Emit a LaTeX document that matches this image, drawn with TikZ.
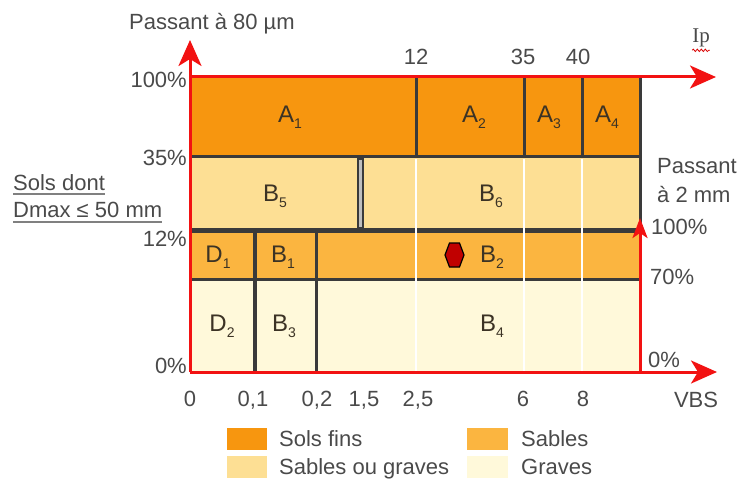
\documentclass[tikz,border=0pt]{standalone}
\usepackage{fontspec}
\setmainfont{Liberation Sans}
\newfontfamily\ipfont{Liberation Serif}
\usetikzlibrary{arrows.meta,decorations.pathmorphing}
\definecolor{fins}{HTML}{F7960F}
\definecolor{sables}{HTML}{FBB540}
\definecolor{sablesg}{HTML}{FDDF94}
\definecolor{graves}{HTML}{FFF9DA}
\definecolor{axisred}{HTML}{F21212}
\definecolor{border}{HTML}{3A3A3A}
\definecolor{txt}{HTML}{4A4A4A}
\definecolor{celltxt}{HTML}{3C3325}
\definecolor{hexred}{HTML}{C00000}
\newcommand\lowsub[1]{\raisebox{-6pt}{\fontsize{14}{14}\selectfont #1}}

\begin{document}
\begin{tikzpicture}[x=1pt,y=-1pt,
  axis/.style={axisred,line width=3pt},
  bigtip/.style={-{Stealth[length=26pt,width=23pt,inset=7pt]}},
  smalltip/.style={-{Stealth[length=20pt,width=15pt,inset=5pt]}},
  edge/.style={border,line width=3pt},
  gap/.style={white,line width=2.5pt},
  lbl/.style={text=txt,font=\fontsize{22}{24}\selectfont,inner sep=0pt,text height=15.8pt,text depth=0pt},
  cell/.style={text=celltxt,font=\fontsize{24}{26}\selectfont,inner sep=0pt,text height=17.2pt,text depth=0pt},
  uline/.style={gray,line width=1.5pt}]
\useasboundingbox (0,0) rectangle (743,481);

% axis corners
\coordinate (O) at (190,372);
\coordinate (TL) at (190,77);
\coordinate (Ytip) at (190,40);
\coordinate (Xtop) at (716,77);
\coordinate (Xbot) at (717,372);
\coordinate (R0) at (640,372);
\coordinate (Rtip) at (640,218);

% class bands
\fill[fins] (190,77) rectangle (640,157);
\fill[sablesg] (190,157) rectangle (640,230);
\fill[sables] (190,230) rectangle (640,279);
\fill[graves] (190,279) rectangle (640,372);

% band borders
\draw[edge] (190,157) -- (640,157);
\draw[edge,line width=5pt] (190,230) -- (640,230);
\draw[edge] (190,279) -- (640,279);
\draw[edge,line width=4pt] (255,230) -- (255,372);
\draw[edge] (316,230) -- (316,372);
\draw[border,line width=7pt] (360,157) -- (360,230);
\draw[gray!50,line width=3pt] (360,160) -- (360,227);
\foreach \x in {416,524,582} \draw[gap] (\x,159) -- (\x,372);
\foreach \x in {416,524,582} \draw[edge] (\x,77) -- (\x,157);
\draw[edge] (640,77) -- (640,231);

% axes
\draw[axis,bigtip] (O) -- (Ytip);
\draw[axis,bigtip] (TL) -- (Xtop);
\draw[axis,bigtip] (O) -- (Xbot);
\draw[axis,smalltip] (R0) -- (Rtip);

% class labels
\node[cell] (a1) at (290,114) {A\lowsub{1}};
\node[cell] (a2) at (474,114) {A\lowsub{2}};
\node[cell] (a3) at (549,114) {A\lowsub{3}};
\node[cell] (a4) at (607,114) {A\lowsub{4}};
\node[cell] (b5) at (275,193) {B\lowsub{5}};
\node[cell] (b6) at (491,193) {B\lowsub{6}};
\node[cell] (d1) at (218,254) {D\lowsub{1}};
\node[cell] (b1) at (283,254) {B\lowsub{1}};
\node[cell] (b2) at (492,254) {B\lowsub{2}};
\node[cell] (d2) at (222,323) {D\lowsub{2}};
\node[cell] (b3) at (284,323) {B\lowsub{3}};
\node[cell] (b4) at (492,323) {B\lowsub{4}};

% sample point
\filldraw[fill=hexred,draw=black,line width=1.2pt]
  (445,255) -- (449.5,243) -- (459.5,243) -- (464,255) -- (459.5,267) -- (449.5,267) -- cycle;

% axis titles
\node[lbl] (ytitle) at (212,22) {Passant à 80 µm};
\node[text=txt,font=\ipfont\fontsize{21}{22}\selectfont,inner sep=0pt] (ip) at (701,38) {Ip};
\draw[red!85!black,line width=0.8pt,decorate,decoration={snake,amplitude=1.2pt,segment length=4pt}]
  ([yshift=-3pt]ip.south west) -- ([yshift=-3pt]ip.south east);
\node[lbl] (vbs) at (696,400) {VBS};
\node[lbl,anchor=west] (p2a) at (657,166) {Passant};
\node[lbl,anchor=west] (p2b) at (657,195) {à 2 mm};

% left scale
\node[lbl,anchor=east] (l100) at (187,80) {100\%};
\node[lbl,anchor=east] (l35) at (187,158) {35\%};
\node[lbl,anchor=east] (l12) at (187,239) {12\%};
\node[lbl,anchor=east] (l0) at (187,366) {0\%};

% right scale
\node[lbl,anchor=west] (r100) at (651,227) {100\%};
\node[lbl,anchor=west] (r70) at (650,277) {70\%};
\node[lbl,anchor=west] (r0) at (648,360) {0\%};

% top scale (Ip)
\node[lbl] (t12) at (416,57) {12};
\node[lbl] (t35) at (523,57) {35};
\node[lbl] (t40) at (578,57) {40};

% bottom scale (VBS)
\node[lbl] (v0) at (190,399) {0};
\node[lbl] (v01) at (253,399) {0,1};
\node[lbl] (v02) at (317,399) {0,2};
\node[lbl] (v15) at (364,399) {1,5};
\node[lbl] (v25) at (418,399) {2,5};
\node[lbl] (v6) at (523,399) {6};
\node[lbl] (v8) at (583,399) {8};

% scope note
\node[lbl,anchor=west] (sd1) at (13,183) {Sols dont};
\node[lbl,anchor=west] (sd2) at (13,210) {Dmax ≤ 50 mm};
\draw[uline] ([yshift=-3pt]sd1.south west) -- ([yshift=-3pt]sd1.south east);
\draw[uline] ([yshift=-4pt]sd2.south west) -- ([yshift=-4pt]sd2.south east);

% legend
\fill[fins] (227,428) rectangle (267,450);
\fill[sablesg] (227,456) rectangle (267,478);
\fill[sables] (467,428) rectangle (508,450);
\fill[graves] (467,456) rectangle (508,478);
\node[lbl,anchor=west] (kfins) at (279,439) {Sols fins};
\node[lbl,anchor=west] (ksg) at (279,467) {Sables ou graves};
\node[lbl,anchor=west] (ks) at (521,439) {Sables};
\node[lbl,anchor=west] (kg) at (521,467) {Graves};
\end{tikzpicture}
\end{document}
